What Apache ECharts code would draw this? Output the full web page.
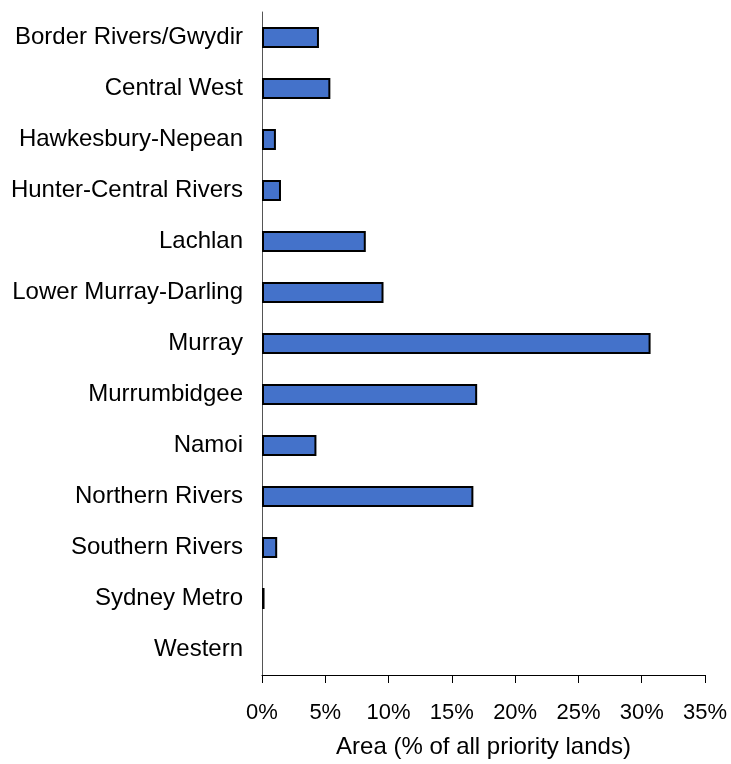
<!DOCTYPE html>
<html>
<head>
<meta charset="utf-8">
<script src="https://cdn.jsdelivr.net/npm/echarts@6/dist/echarts.min.js"></script>
<style>html,body{margin:0;padding:0;background:#fff;}#chart{width:731px;height:764px;}</style>
</head>
<body>
<div id="chart"></div>
<script>
const categories = ["Border Rivers/Gwydir","Central West","Hawkesbury-Nepean","Hunter-Central Rivers","Lachlan","Lower Murray-Darling","Murray","Murrumbidgee","Namoi","Northern Rivers","Southern Rivers","Sydney Metro","Western"];
const values = [4.5, 5.4, 1.1, 1.5, 8.2, 9.6, 30.7, 17.0, 4.3, 16.7, 1.2, 0.2, 0];
const xTicks = [0, 5, 10, 15, 20, 25, 30, 35];
const axisTitle = "Area (% of all priority lands)";

const FONT = 'Liberation Sans, Arial, sans-serif';
const chart = echarts.init(document.getElementById('chart'));
chart.setOption({
  animation: false,
  backgroundColor: '#ffffff',
  textStyle: { fontFamily: FONT },
  grid: { left: 262, right: 26, top: 12, bottom: 89, containLabel: false, outerBoundsMode: 'none' },
  xAxis: {
    type: 'value', min: xTicks[0], max: xTicks[xTicks.length - 1], interval: 5,
    name: axisTitle, nameLocation: 'middle', nameGap: 60,
    nameTextStyle: { fontSize: 24, color: '#000', fontFamily: FONT },
    axisLine: { show: true, lineStyle: { color: '#000', width: 1 } },
    axisTick: { show: true, length: 8, lineStyle: { color: '#000' } },
    axisLabel: { formatter: v => v + '%', fontSize: 22, color: '#000', margin: 27, fontFamily: FONT },
    splitLine: { show: false }
  },
  yAxis: {
    type: 'category', data: categories, inverse: true,
    axisLine: { show: true, lineStyle: { color: '#555', width: 1 } },
    axisTick: { show: false },
    axisLabel: { fontSize: 24, color: '#000', margin: 19, fontFamily: FONT }
  },
  series: [{
    type: 'bar',
    data: values.map(v => v === 0 ? { value: v, itemStyle: { borderWidth: 0 } } : v),
    barWidth: 21,
    itemStyle: { color: '#4472CA', borderColor: '#000', borderWidth: 2 }
  }]
});
</script>
</body>
</html>
